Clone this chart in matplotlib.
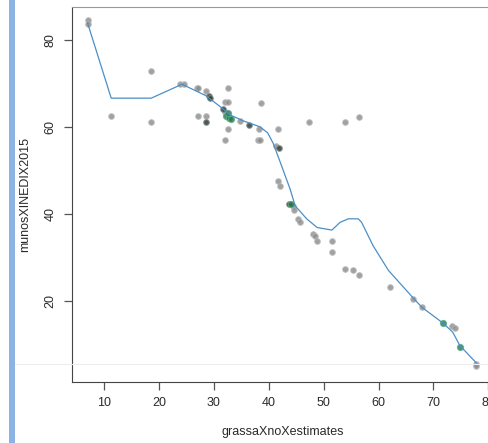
import numpy as np
import matplotlib.pyplot as plt
from matplotlib.lines import Line2D
from matplotlib.patches import Rectangle

plt.rcParams['font.family'] = ['Liberation Sans', 'DejaVu Sans']

# scattered points (light grey)
grey_x = [7.0, 7.0, 11.3, 18.6, 18.6, 23.8, 24.5, 26.9, 27.2, 28.6, 27.2, 28.6,
          32.6, 32.0, 32.6, 32.0, 32.6, 32.0, 34.8, 38.5, 38.3, 38.1, 38.4,
          41.7, 41.4, 41.7, 42.1, 44.5, 44.6, 45.4, 45.7, 48.1, 48.4, 48.7,
          47.4, 51.5, 51.5, 53.9, 56.5, 53.9, 55.4, 56.5, 62.0, 66.2, 67.9,
          73.3, 73.9, 77.8, 77.8]
grey_y = [84.6, 83.8, 62.5, 72.9, 61.3, 69.9, 69.9, 69.1, 69.1, 68.3, 62.6, 62.6,
          69.1, 65.7, 65.7, 63.4, 59.7, 57.1, 61.4, 65.5, 59.7, 57.1, 57.1,
          59.7, 55.7, 47.7, 46.4, 41.9, 40.9, 38.9, 38.2, 35.4, 35.0, 33.9,
          61.2, 33.7, 31.2, 61.2, 62.3, 27.4, 27.2, 26.0, 23.3, 20.5, 18.5,
          14.3, 13.7, 5.5, 4.9]

# darker points
dark_x = [29.2, 29.3, 31.6, 36.4, 41.9, 28.6, 43.7]
dark_y = [67.2, 66.8, 64.3, 60.5, 55.3, 61.3, 42.3]

# green points
green_x = [32.3, 32.8, 33.2, 32.5, 44.0, 71.7, 74.8]
green_y = [62.6, 62.2, 62.0, 63.2, 42.3, 14.9, 9.3]

# smoothed curve
line_x = [7.0, 11.3, 18.6, 24.2, 28.5, 31.0, 33.0, 35.5, 38.4, 39.8, 40.8, 42.1,
          43.9, 44.8, 46.9, 48.8, 51.5, 53.0, 54.5, 56.3, 56.9, 59.0, 61.8,
          64.5, 66.2, 67.9, 71.7, 73.5, 74.8, 77.8]
line_y = [84.0, 66.7, 66.7, 69.9, 67.3, 64.9, 62.8, 61.4, 60.1, 58.7, 56.3, 51.9,
          45.7, 41.9, 38.9, 36.9, 36.3, 38.1, 38.9, 38.9, 38.1, 32.7, 27.0,
          23.2, 20.8, 18.5, 14.9, 12.8, 9.7, 5.7]

xticks = [10, 20, 30, 40, 50, 60, 70, 80]
yticks = [20, 40, 60, 80]

fig = plt.figure(figsize=(4.89, 4.43), dpi=100)
ax = fig.add_axes([72 / 489, 1 - 382 / 443, 421 / 489, 375 / 443])

ax.plot(grey_x, grey_y, 'o', color='#8a8a8a', alpha=0.8, markersize=4.0,
        markeredgecolor='#b5b5b5', markeredgewidth=0.8, zorder=2)
ax.plot(dark_x, dark_y, 'o', color='#2f3a33', alpha=0.85, markersize=4.0,
        markeredgecolor='#7a8a80', markeredgewidth=0.8, zorder=3)
ax.plot(green_x, green_y, 'o', color='#1f7a4d', alpha=0.8, markersize=4.4,
        markeredgecolor='#5fa882', markeredgewidth=0.8, zorder=3)
ax.plot(line_x, line_y, '-', color='#4b8fc7', linewidth=0.9, zorder=4)

ax.set_xlim(4.16, 80.84)
ax.set_ylim(1.3, 87.7)
ax.set_xticks(xticks)
ax.set_yticks(yticks)

for s in ['top', 'right']:
    ax.spines[s].set_color('#999999')
for s in ['left', 'bottom']:
    ax.spines[s].set_color('#444444')

ax.tick_params(axis='both', length=6, width=0.9, color='#555555',
               labelsize=9, labelcolor='#2a2a2a', pad=5)
plt.setp(ax.get_yticklabels(), rotation=90, va='center')

ax.set_xlabel('grassaXnoXestimates', fontsize=9, color='#2a2a2a', labelpad=12)
ax.set_ylabel('munosXINEDIX2015', fontsize=9, color='#2a2a2a', labelpad=10)

# blue bar at the left edge and faint horizontal line
fig.patches.append(Rectangle((9 / 489, 0), 6 / 489, 1, transform=fig.transFigure,
                             facecolor='#8db3e2', edgecolor='none'))
fig.lines.append(Line2D([15 / 489, 1], [1 - 364 / 443, 1 - 364 / 443],
                        transform=fig.transFigure, color='#ededed', linewidth=0.8))

fig.savefig('out.png', dpi=100)
